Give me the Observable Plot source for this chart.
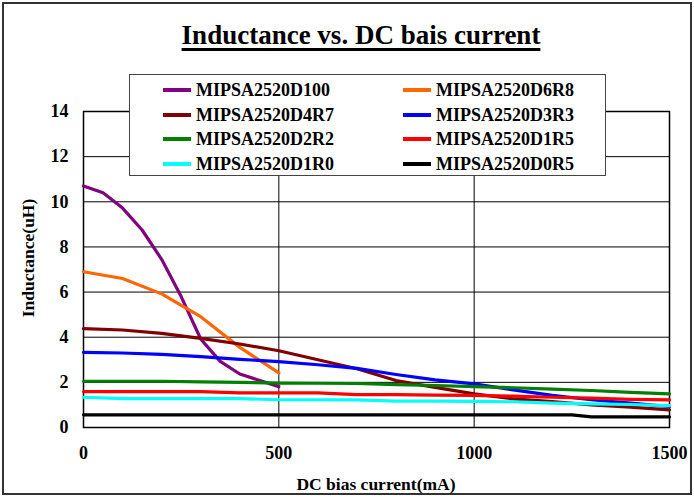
<!DOCTYPE html>
<html>
<head>
<meta charset="utf-8">
<script src="https://cdn.jsdelivr.net/npm/d3@7"></script>
<script src="https://cdn.jsdelivr.net/npm/@observablehq/plot@0.6"></script>
<style>
  html, body { margin: 0; padding: 0; background: #fff; }
  #wrap { position: relative; width: 694px; height: 497px; font-family: "Liberation Serif", "Times New Roman", serif; color: #000; overflow: hidden; }
  #wrap svg { position: absolute; left: 0; top: 0; }
  .border { position: absolute; left: 2px; top: 2px; width: 690px; height: 493px; box-sizing: border-box; border: 2px solid #333; pointer-events: none; }
  .title { position: absolute; left: 0; width: 722px; top: 22px; text-align: center; font-size: 27px; line-height: 27px; font-weight: bold; text-decoration: underline; text-decoration-thickness: 2.5px; text-underline-offset: 4px; white-space: nowrap; }
  .xlabel { position: absolute; left: 0; width: 752px; top: 475px; text-align: center; font-size: 17.5px; line-height: 18px; font-weight: bold; white-space: nowrap; }
  .ylabel { position: absolute; left: 28px; top: 258px; font-size: 17.5px; line-height: 18px; font-weight: bold; white-space: nowrap; transform: translate(-50%, -50%) rotate(-90deg); }
  .legend { position: absolute; left: 129px; top: 74px; width: 477px; height: 102px; box-sizing: border-box; border: 1.5px solid #444; background: #fff; }
  .item { position: absolute; height: 20px; font-size: 18px; line-height: 20px; font-weight: bold; white-space: nowrap; }
  .sw { position: absolute; left: 0; top: 8px; width: 28px; height: 4px; }
  .lt { position: absolute; left: 33px; top: 0; }
</style>
</head>
<body>
<div id="wrap"></div>
<script>
// ---- data ----
const seriesNames = ["MIPSA2520D100", "MIPSA2520D6R8", "MIPSA2520D4R7", "MIPSA2520D3R3",
                     "MIPSA2520D2R2", "MIPSA2520D1R5", "MIPSA2520D1R0", "MIPSA2520D0R5"];
const seriesColors = ["#800080", "#FF6600", "#800000", "#0000FF",
                      "#008000", "#FF0000", "#00FFFF", "#000000"];

const currentD100 = [0, 50, 100, 150, 200, 250, 300, 350, 400, 500];
const lD100 = [10.7, 10.4, 9.72, 8.75, 7.45, 5.8, 3.92, 2.93, 2.37, 1.81];

const currentD6R8 = [0, 100, 200, 300, 400, 500];
const lD6R8 = [6.9, 6.6, 5.92, 4.91, 3.55, 2.42];

const current1500 = [0, 100, 200, 300, 400, 500, 600, 700, 800, 900, 1000, 1100, 1200, 1300, 1400, 1500];
const lD4R7 = [4.38, 4.32, 4.17, 3.95, 3.70, 3.40, 3.0, 2.6, 2.08, 1.78, 1.49, 1.27, 1.15, 1.0, 0.9, 0.78];
const lD3R3 = [3.33, 3.30, 3.24, 3.14, 3.02, 2.92, 2.78, 2.62, 2.35, 2.11, 1.93, 1.67, 1.42, 1.23, 1.08, 0.93];
const lD2R2 = [2.05, 2.05, 2.05, 2.02, 2.0, 1.97, 1.96, 1.95, 1.9, 1.86, 1.81, 1.76, 1.70, 1.64, 1.56, 1.49];
const lD1R5 = [1.59, 1.59, 1.59, 1.59, 1.53, 1.53, 1.53, 1.46, 1.46, 1.43, 1.42, 1.39, 1.34, 1.30, 1.25, 1.22];
const lD1R0 = [1.34, 1.28, 1.28, 1.28, 1.28, 1.23, 1.23, 1.22, 1.17, 1.17, 1.16, 1.14, 1.08, 1.05, 1.02, 0.97];

const currentD0R5 = [0, 100, 200, 300, 400, 500, 600, 700, 800, 900, 1000, 1100, 1200, 1250, 1300, 1400, 1500];
const lD0R5 = [0.56, 0.56, 0.56, 0.56, 0.56, 0.56, 0.56, 0.56, 0.56, 0.56, 0.56, 0.56, 0.56, 0.56, 0.47, 0.47, 0.47];

const xTicks = [0, 500, 1000, 1500];
const yTicks = [0, 2, 4, 6, 8, 10, 12, 14];
const titleText = "Inductance vs. DC bais current";
const xLabelText = "DC bias current(mA)";
const yLabelText = "Inductance(uH)";

// ---- build table ----
const seriesX = [currentD100, currentD6R8, current1500, current1500, current1500, current1500, current1500, currentD0R5];
const seriesY = [lD100, lD6R8, lD4R7, lD3R3, lD2R2, lD1R5, lD1R0, lD0R5];
const rows = [];
seriesNames.forEach((name, i) => {
  seriesX[i].forEach((x, j) => rows.push({series: name, current: x, L: seriesY[i][j]}));
});

const chart = Plot.plot({
  width: 694,
  height: 497,
  marginLeft: 83,
  marginRight: 25,
  marginTop: 111,
  marginBottom: 70,
  style: {fontFamily: "'Liberation Serif', 'Times New Roman', serif", fontSize: "18px", fontWeight: "bold", color: "#000", background: "transparent", overflow: "visible"},
  x: {domain: [0, 1500]},
  y: {domain: [0, 14]},
  color: {domain: seriesNames, range: seriesColors},
  marks: [
    Plot.ruleY(yTicks.filter(v => v > 0 && v < 14), {stroke: "#000", strokeWidth: 1}),
    Plot.ruleX(xTicks.filter(v => v > 0 && v < 1500), {stroke: "#000", strokeWidth: 1}),
    Plot.frame({stroke: "#000", strokeWidth: 1.5}),
    Plot.axisY({ticks: yTicks, tickSize: 0, tickPadding: 15, label: null, tickFormat: "d", fontWeight: "bold"}),
    Plot.axisX({ticks: xTicks, tickSize: 0, tickPadding: 19, label: null, tickFormat: "d", fontWeight: "bold"}),
    Plot.line(rows, {x: "current", y: "L", z: "series", stroke: "series", strokeWidth: 3.2, strokeLinejoin: "round"})
  ]
});

const wrap = document.getElementById("wrap");
wrap.appendChild(chart);

const border = document.createElement("div");
border.className = "border";
wrap.appendChild(border);

const title = document.createElement("div");
title.className = "title";
title.textContent = titleText;
wrap.appendChild(title);

const xl = document.createElement("div");
xl.className = "xlabel";
xl.textContent = xLabelText;
wrap.appendChild(xl);

const yl = document.createElement("div");
yl.className = "ylabel";
yl.textContent = yLabelText;
wrap.appendChild(yl);

const legend = document.createElement("div");
legend.className = "legend";
seriesNames.forEach((name, i) => {
  const col = i % 2, row = Math.floor(i / 2);
  const it = document.createElement("div");
  it.className = "item";
  it.style.left = (col === 0 ? 33 : 273) + "px";
  it.style.top = (5 + row * 24.5) + "px";
  const sw = document.createElement("div");
  sw.className = "sw";
  sw.style.background = seriesColors[i];
  const t = document.createElement("div");
  t.className = "lt";
  t.textContent = name;
  it.appendChild(sw);
  it.appendChild(t);
  legend.appendChild(it);
});
wrap.appendChild(legend);
</script>
</body>
</html>
